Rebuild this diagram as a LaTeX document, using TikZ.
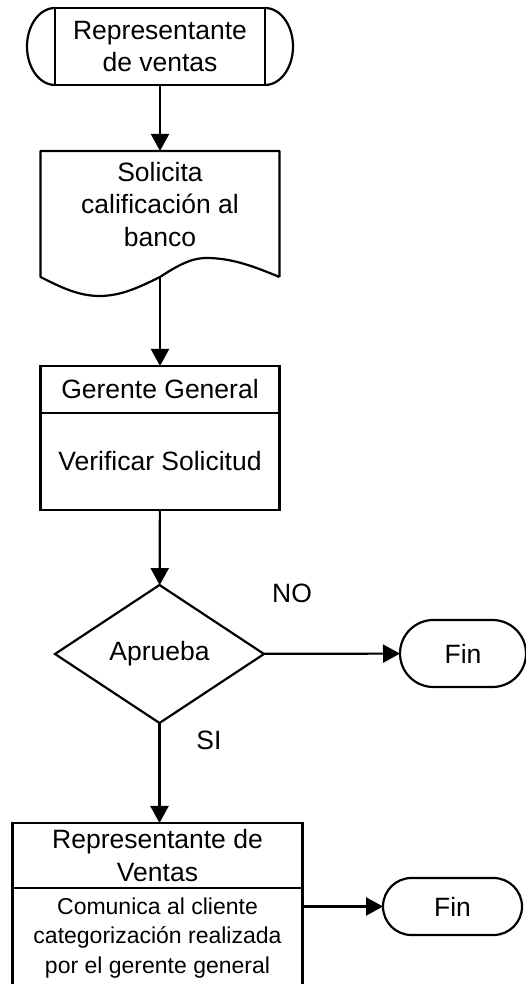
\documentclass[tikz,border=0pt]{standalone}
\usepackage{fontspec}
\setmainfont{Liberation Sans}
\usetikzlibrary{
    arrows.meta,
    calc,
    positioning,
    shapes.geometric
}
\tikzset{
    % box of the flow, text centred
    procbox/.style={
        draw, line width=2.2pt, minimum width=239pt, inner sep=0pt, outer sep=0pt,
        align=center, font=\fontsize{26.5}{32.5}\selectfont
    },
    % rounded end of the flow
    endbox/.style={
        draw, line width=2.2pt, inner sep=0pt, outer sep=0pt,
        font=\fontsize{26.5}{32.5}\selectfont
    },
    lbl/.style={font=\fontsize{26.5}{32.5}\selectfont},
    % arrow between two steps
    flow/.style={line width=2.2pt, -{Triangle[length=17pt, width=18pt]}}
}
\begin{document}
\begin{tikzpicture}[x=1pt, y=1pt]
            \useasboundingbox (0,0) rectangle (526,984);
            \clip (0,0) rectangle (526,984);
            % start
            \node[procbox, minimum width=210pt, minimum height=77pt] (rep) at (160,937.5) {Representante\\de ventas};
            \draw[line width=2.2pt] (rep.north west) arc[start angle=90, end angle=270, x radius=28pt, y radius=38.5pt];
            \draw[line width=2.2pt] (rep.south east) arc[start angle=-90, end angle=90, x radius=28pt, y radius=38.5pt];
            % document
            \node[procbox, draw=none, minimum height=107pt] (sol) at (160,779.5) {Solicita\\calificación al\\banco};
            \coordinate (solL) at ([yshift=-19pt]sol.south west);
            \coordinate (solR) at ([yshift=-19pt]sol.south east);
            \coordinate (solM) at ([yshift=-19pt]sol.south);
            \coordinate (solT) at ([shift={(59pt,-38pt)}]sol.south west);
            \coordinate (solP) at ([xshift=-73pt]sol.south east);
            \draw[line width=2.2pt, line join=round]
                (solR) -- (sol.north east) -- (sol.north west) -- (solL)
                sin (solT) cos (solM) sin (solP) cos (solR);
            % check
            \node[procbox, minimum height=47pt] (gerT) at (160,594.5) {Gerente General};
            \node[procbox, minimum height=97pt, below=0pt of gerT] (gerB) {Verificar Solicitud};
            \node[endbox, diamond, minimum width=209pt, minimum height=138pt] (apr) at (159.5,330) {Aprueba};
            \node[endbox, minimum width=126pt, minimum height=67pt, rounded corners=33.5pt] (finA) at (463,330.5) {Fin};
            \node[lbl] (no) at (292,391) {NO};
            \node[lbl] (si) at (209,244) {SI};
            % last step
            \node[procbox, minimum width=290pt, minimum height=65pt] (repvT) at (157.5,128.5) {Representante de\\Ventas};
            \node[procbox, minimum width=290pt, minimum height=100pt, below=0pt of repvT,
                font=\fontsize{23}{29.5}\selectfont] (repvB) {Comunica al cliente\\categorización realizada\\por el gerente general};
            \node[endbox, minimum width=139pt, minimum height=57pt, rounded corners=28.5pt] (finB) at (452.5,77.5) {Fin};
            \begin{scope}
                \draw[flow] (rep) -- (sol);
                \draw[flow] (solM) -- (gerT);
                \draw[flow] (gerB) -- (apr);
                \draw[flow] (apr) -- (finA);
                \draw[flow] (apr.south) -- (apr.south |- repvT.north);
                \draw[flow] (repvB.east |- finB) -- (finB);
            \end{scope}
        \end{tikzpicture}
\end{document}
